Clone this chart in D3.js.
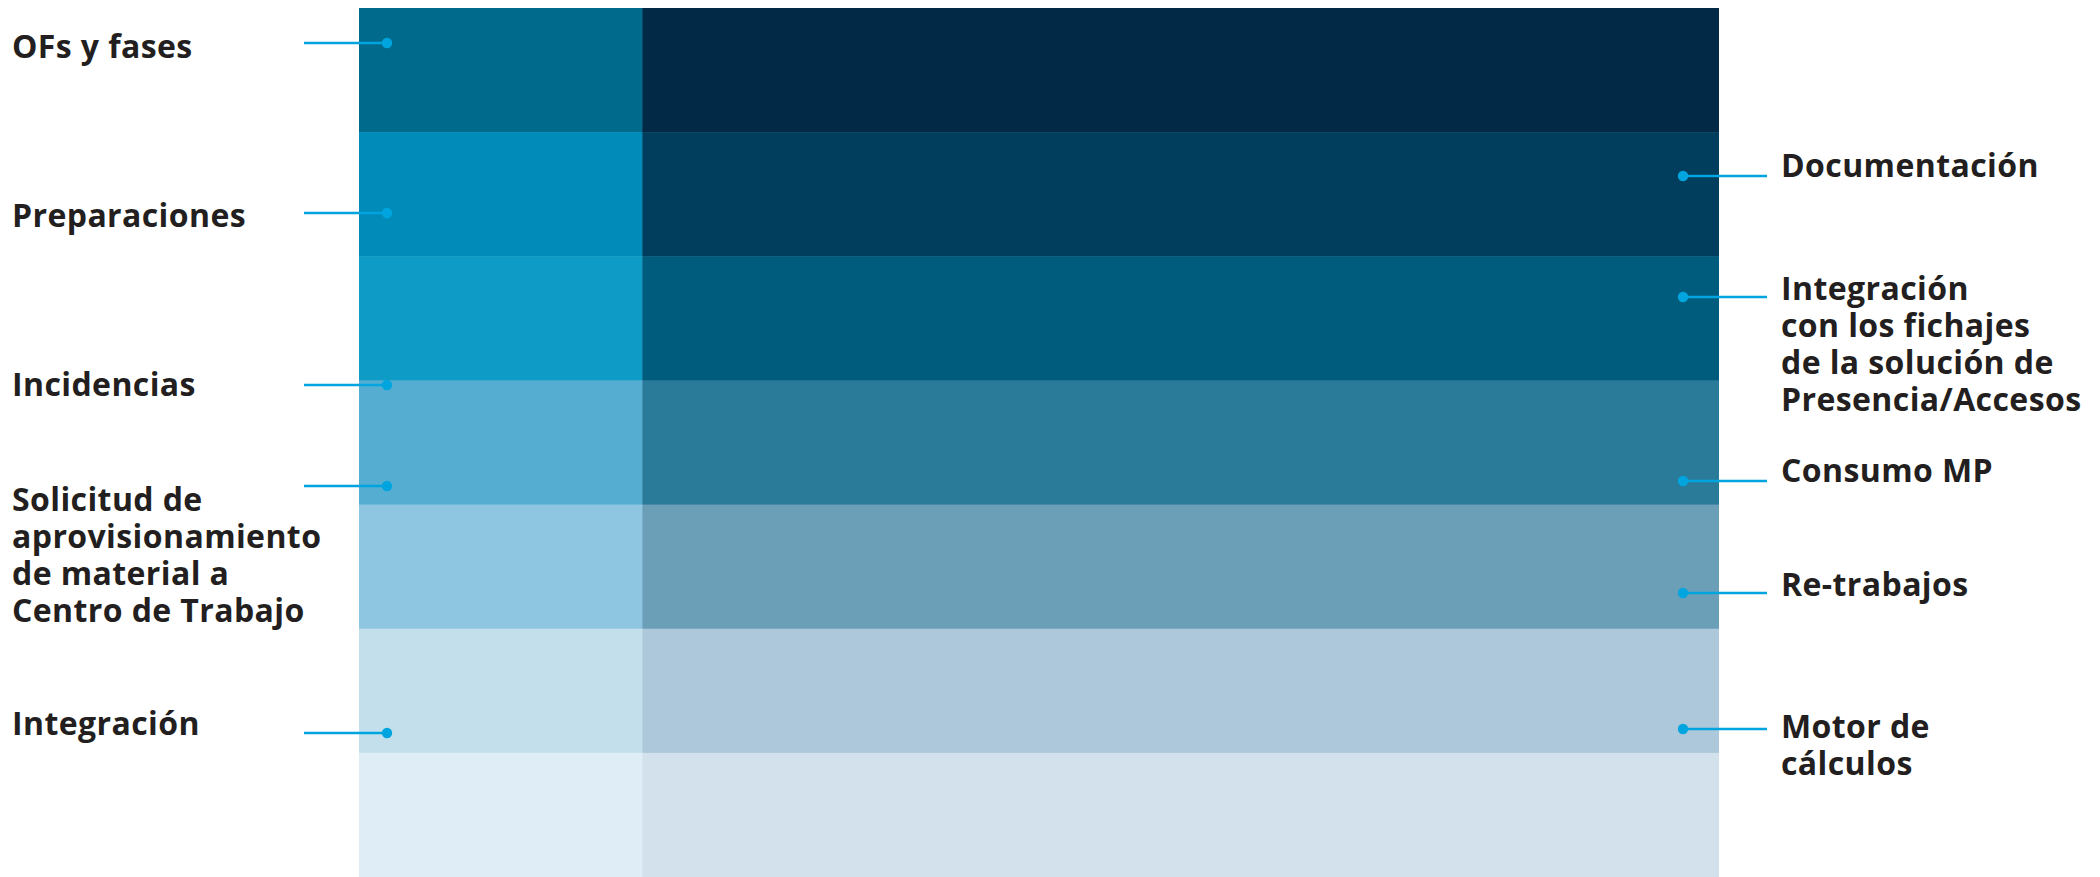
<!DOCTYPE html>
<html><head><meta charset="utf-8">
<script src="https://cdn.jsdelivr.net/npm/d3@7"></script>
<style>html,body{margin:0;padding:0;background:#fff;overflow:hidden}</style>
</head><body><svg id="c" width="2100" height="877"></svg>
<script>
// Rows (top to bottom) and the two columns of the grid
const rows = ["r1","r2","r3","r4","r5","r6","r7"];
const columns = ["left","right"];
const columnWeights = [1, 3.8];
const leftColors  = ["#006a8d","#008bb8","#0e9cc6","#55aed2","#8ec5e1","#c3dfec","#dfeef6"];
const rightColors = ["#022946","#013e5d","#005c7d","#2a7a99","#6b9fb8","#acc8da","#d2e1eb"];

// Labels: text lines, dot position and first baseline (in row units)
const leftLabels = [
  {lines:["OFs y fases"], dot:0.282, base:0.403},
  {lines:["Preparaciones"], dot:1.651, base:1.764},
  {lines:["Incidencias"], dot:3.037, base:3.126},
  {lines:["Solicitud de","aprovisionamiento","de material a","Centro de Trabajo"], dot:3.851, base:4.052},
  {lines:["Integración"], dot:5.840, base:5.856}
];
const rightLabels = [
  {lines:["Documentación"], dot:1.353, base:1.361},
  {lines:["Integración","con los fichajes","de la solución de","Presencia/Accesos"], dot:2.328, base:2.352},
  {lines:["Consumo MP"], dot:3.810, base:3.818},
  {lines:["Re-trabajos"], dot:4.712, base:4.737},
  {lines:["Motor de","cálculos"], dot:5.808, base:5.880}
];

const svg = d3.select("#c");
const yTop = 8, yBottom = 877, xLeft = 359, xRight = 1719;
const y = d3.scaleBand().domain(rows).range([yTop, yBottom]).padding(0);
const yPos = d3.scaleLinear().domain([0, rows.length]).range([yTop, yBottom]);
const totalW = d3.sum(columnWeights);
const xw = d3.scaleLinear().domain([0, totalW]).range([xLeft, xRight]);
const colStart = [0, columnWeights[0]];

const cells = [];
rows.forEach((r,i)=>{
  columns.forEach((c,j)=>{
    cells.push({r, j, color: j===0 ? leftColors[i] : rightColors[i]});
  });
});
svg.append("g").selectAll("rect").data(cells).join("rect")
  .attr("x", d=>xw(colStart[d.j]))
  .attr("width", d=>xw(colStart[d.j]+columnWeights[d.j]) - xw(colStart[d.j]) + (d.j===0?0.5:0))
  .attr("y", d=>y(d.r))
  .attr("height", y.bandwidth()+0.5)
  .attr("fill", d=>d.color);

const lineColor = "#00a5df";
const font = "'Open Sans', sans-serif";
const lineH = 37;

function drawLabels(data, side){
  const g = svg.append("g");
  const dotX = side==="left" ? 387 : 1683;
  const lineX2 = side==="left" ? 304 : 1767;
  const textX = side==="left" ? 12 : 1781;
  const grp = g.selectAll("g").data(data).join("g");
  grp.append("line")
    .attr("x1", dotX).attr("x2", lineX2)
    .attr("y1", d=>yPos(d.dot)).attr("y2", d=>yPos(d.dot))
    .attr("stroke", lineColor).attr("stroke-width", 2.6);
  grp.append("circle")
    .attr("cx", dotX).attr("cy", d=>yPos(d.dot)).attr("r", 5.2)
    .attr("fill", lineColor);
  const t = grp.append("text")
    .attr("x", textX).attr("y", d=>yPos(d.base))
    .attr("font-family", font).attr("font-weight", 700)
    .attr("font-size", 32).attr("letter-spacing", 0.4).attr("fill", "#231f20");
  t.selectAll("tspan").data(d=>d.lines).join("tspan")
    .attr("x", textX).attr("dy", (d,i)=> i===0 ? 0 : lineH)
    .text(d=>d);
}
drawLabels(leftLabels, "left");
drawLabels(rightLabels, "right");
</script></body></html>
